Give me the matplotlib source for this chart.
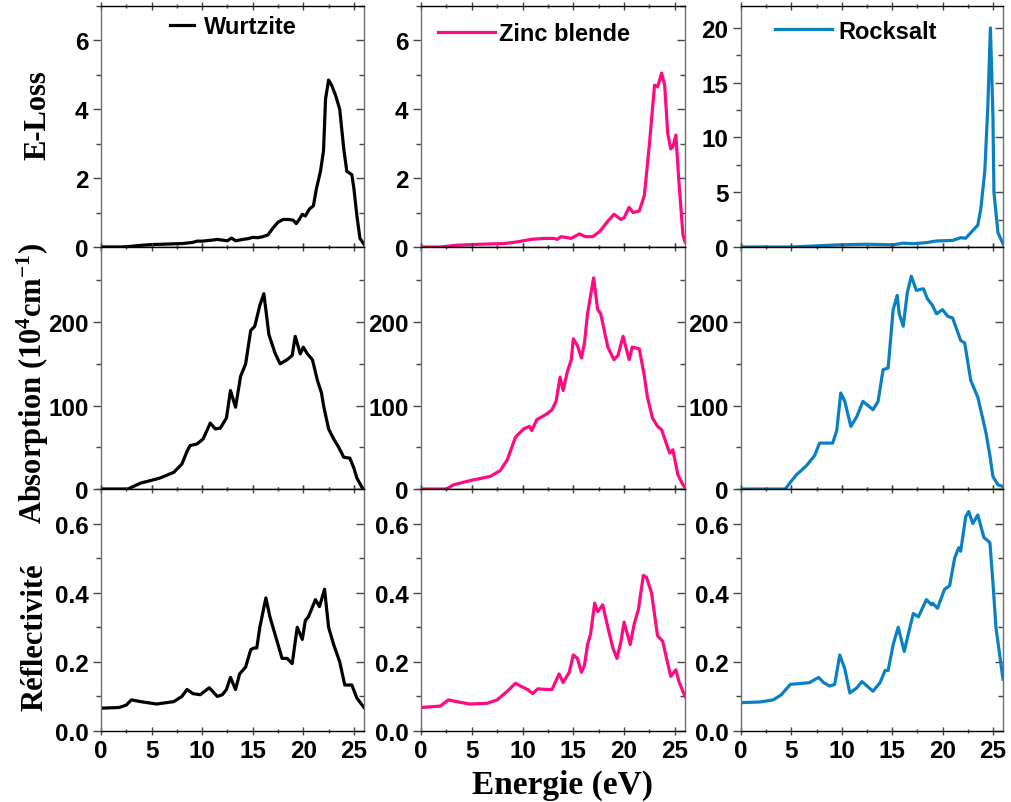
import matplotlib
matplotlib.use("Agg")
import matplotlib.pyplot as plt
from matplotlib.ticker import MultipleLocator

plt.rcParams['font.family'] = ['Liberation Sans', 'DejaVu Sans']
plt.rcParams['font.weight'] = 'bold'
plt.rcParams['mathtext.fontset'] = 'custom'
plt.rcParams['mathtext.rm'] = 'Liberation Serif:bold'
plt.rcParams['mathtext.it'] = 'Liberation Serif:bold'
plt.rcParams['mathtext.bf'] = 'Liberation Serif:bold'
plt.rcParams['mathtext.default'] = 'rm'

# ---------------- data ----------------
phases = ["Wurtzite", "Zinc blende", "Rocksalt"]
colors = ["#000000", "#FF0A80", "#0A80C4"]
row_labels = ["E-Loss", r"Absorption (10$^{4}$cm$^{-1}$)", "Réflectivité"]
xlabel = "Energie (eV)"
xticks = [0, 5, 10, 15, 20, 25]

# E-Loss
wz_eloss_E = [0, 2, 3, 4, 5, 6, 7, 8, 9, 9.5, 10, 11, 11.5, 12, 12.5, 12.9, 13.3, 14, 14.5, 15, 15.5, 16,
              16.5, 17, 17.5, 18, 18.5, 19, 19.3, 19.6, 19.9, 20.2, 20.6, 21, 21.3, 21.7, 22, 22.2, 22.5,
              22.8, 23.2, 23.6, 24.0, 24.3, 24.8, 25.0, 25.3, 25.6, 26]
wz_eloss = [0, 0, 0.02, 0.05, 0.07, 0.08, 0.09, 0.1, 0.13, 0.17, 0.17, 0.2, 0.22, 0.2, 0.18, 0.26, 0.18, 0.22,
            0.24, 0.28, 0.27, 0.3, 0.35, 0.55, 0.72, 0.8, 0.8, 0.78, 0.68, 0.8, 0.95, 0.9, 1.1, 1.2, 1.7, 2.2,
            2.8, 4.3, 4.85, 4.7, 4.4, 4.0, 2.85, 2.2, 2.1, 1.7, 0.9, 0.25, 0.08]

zb_eloss_E = [0, 1.9, 3.5, 5.8, 8.2, 9.5, 10.8, 12.1, 13.1, 13.4, 13.8, 14.8, 15.6, 16.2, 16.9, 17.6, 18.4,
              19.0, 19.7, 20.0, 20.5, 20.9, 21.5, 22.0, 22.5, 23.0, 23.3, 23.7, 24.0, 24.3, 24.6, 24.8, 25.1,
              25.4, 25.8, 26]
zb_eloss = [0, 0, 0.05, 0.08, 0.1, 0.15, 0.22, 0.25, 0.25, 0.22, 0.3, 0.25, 0.38, 0.3, 0.3, 0.45, 0.75, 0.95,
            0.8, 0.85, 1.15, 1.0, 1.05, 1.5, 3.0, 4.7, 4.65, 5.05, 4.7, 3.3, 2.85, 2.9, 3.25, 1.9, 0.35, 0.15]

rs_eloss_E = [0, 5, 9.8, 12.4, 15.1, 16.1, 17.1, 18.4, 19.4, 21.0, 21.8, 22.3, 22.8, 23.5, 23.8, 24.2, 24.5,
              24.75, 25.0, 25.1, 25.5, 26.0]
rs_eloss = [0, 0, 0.2, 0.25, 0.2, 0.35, 0.3, 0.4, 0.55, 0.6, 0.85, 0.8, 1.3, 2.0, 3.5, 7.0, 13.0, 20.0, 12.0,
            5.0, 1.3, 0.3]

# Absorption
wz_abs_E = [0, 2.7, 3.0, 3.9, 5.8, 7.2, 8.0, 8.5, 8.8, 9.5, 10.1, 10.8, 11.3, 11.8, 12.4, 12.8, 13.3, 13.8,
            14.3, 14.8, 15.2, 15.7, 16.1, 16.6, 17.2, 17.7, 18.4, 18.9, 19.2, 19.7, 20.0, 20.4, 20.9, 21.4,
            21.8, 22.0, 22.5, 23.0, 23.5, 24.0, 24.6, 25.0, 25.3, 25.8, 26]
wz_abs = [0, 0, 2, 7, 13, 20, 30, 45, 52, 54, 60, 79, 72, 73, 85, 118, 98, 135, 150, 190, 195, 220, 234, 185,
          163, 150, 155, 160, 183, 162, 170, 162, 155, 130, 115, 100, 72, 60, 50, 38, 37, 25, 13, 2, 0.5]

zb_abs_E = [0, 2.5, 3.2, 4.8, 6.8, 7.8, 8.5, 9.3, 10.1, 10.7, 10.9, 11.4, 12.4, 12.9, 13.3, 13.7, 14.0, 14.4,
            14.8, 15.0, 15.4, 15.8, 16.1, 16.4, 17.0, 17.4, 17.7, 18.4, 19.0, 19.4, 19.9, 20.5, 20.8, 21.5,
            22.0, 22.3, 22.8, 23.3, 23.7, 24.2, 24.5, 24.8, 25.3, 25.8, 26]
zb_abs = [0, 0, 5, 10, 15, 22, 35, 62, 72, 75, 70, 83, 90, 95, 105, 134, 118, 140, 155, 180, 172, 157, 175,
          210, 253, 215, 210, 170, 155, 160, 183, 155, 170, 168, 135, 110, 85, 75, 71, 53, 43, 47, 17, 5, 2]

rs_abs_E = [0, 4.4, 4.9, 5.5, 6.5, 7.3, 7.8, 8.5, 9.1, 9.5, 9.9, 10.3, 10.9, 11.5, 12.1, 12.6, 13.1, 13.6,
            14.1, 14.6, 15.1, 15.5, 15.7, 16.1, 16.5, 16.9, 17.4, 18.1, 18.5, 19.0, 19.4, 20.0, 20.5, 21.0,
            21.8, 22.2, 22.8, 23.5, 24.3, 24.7, 25.0, 25.5, 26.0]
rs_abs = [0, 0, 8, 17, 28, 40, 55, 55, 55, 70, 115, 105, 75, 87, 105, 100, 95, 105, 143, 145, 215, 232, 210,
          195, 235, 255, 238, 240, 228, 220, 210, 215, 207, 205, 178, 175, 130, 110, 68, 40, 15, 5, 3]

# Reflectivity
wz_ref_E = [0, 1.8, 2.5, 3.0, 3.9, 5.5, 7.2, 8.0, 8.5, 9.1, 9.8, 10.7, 11.5, 12.0, 12.4, 12.8, 13.3, 13.7,
            14.3, 14.8, 15.1, 15.4, 15.7, 16.3, 16.7, 17.2, 17.9, 18.4, 18.9, 19.4, 19.9, 20.2, 20.5, 21.2,
            21.6, 22.1, 22.5, 23.0, 23.6, 24.1, 24.8, 25.3, 26]
wz_ref = [0.066, 0.068, 0.075, 0.09, 0.085, 0.078, 0.085, 0.1, 0.12, 0.108, 0.105, 0.125, 0.1, 0.105, 0.12,
          0.155, 0.12, 0.165, 0.185, 0.235, 0.24, 0.24, 0.3, 0.385, 0.33, 0.28, 0.21, 0.21, 0.195, 0.3, 0.265,
          0.32, 0.33, 0.38, 0.36, 0.41, 0.3, 0.25, 0.2, 0.133, 0.133, 0.095, 0.068]

zb_ref_E = [0, 1.9, 2.7, 3.5, 4.8, 6.5, 7.5, 8.5, 9.3, 9.8, 10.5, 11.0, 11.5, 12.4, 12.9, 13.6, 14.0, 14.6,
            15.0, 15.4, 15.8, 16.1, 16.4, 16.7, 17.1, 17.4, 17.9, 18.4, 18.9, 19.3, 19.7, 20.0, 20.6, 21.0,
            21.4, 21.9, 22.2, 22.7, 23.3, 23.8, 24.3, 24.6, 25.1, 25.4, 26]
zb_ref = [0.068, 0.072, 0.09, 0.085, 0.078, 0.08, 0.09, 0.115, 0.138, 0.13, 0.12, 0.108, 0.122, 0.12, 0.12,
          0.165, 0.14, 0.17, 0.22, 0.21, 0.17, 0.19, 0.25, 0.28, 0.37, 0.345, 0.365, 0.3, 0.24, 0.21, 0.26,
          0.315, 0.25, 0.31, 0.35, 0.45, 0.445, 0.4, 0.275, 0.26, 0.195, 0.158, 0.177, 0.143, 0.1]

rs_ref_E = [0, 1.9, 3.2, 4.0, 4.9, 5.8, 6.8, 7.7, 8.2, 8.8, 9.3, 9.8, 10.3, 10.8, 11.5, 12.0, 13.1, 13.8,
            14.3, 14.6, 15.1, 15.6, 16.2, 16.6, 17.1, 17.6, 18.4, 18.9, 19.0, 19.5, 20.2, 20.7, 21.2, 21.6,
            21.8, 22.3, 22.6, 23.0, 23.5, 24.1, 24.7, 25.0, 25.3, 26.0]
rs_ref = [0.082, 0.084, 0.09, 0.105, 0.135, 0.137, 0.14, 0.155, 0.14, 0.13, 0.135, 0.22, 0.18, 0.11, 0.125,
          0.143, 0.115, 0.14, 0.175, 0.175, 0.25, 0.3, 0.23, 0.28, 0.34, 0.33, 0.38, 0.365, 0.37, 0.355, 0.41,
          0.42, 0.5, 0.53, 0.52, 0.62, 0.635, 0.60, 0.625, 0.56, 0.545, 0.43, 0.3, 0.15]

series = [
    [(wz_eloss_E, wz_eloss), (zb_eloss_E, zb_eloss), (rs_eloss_E, rs_eloss)],
    [(wz_abs_E, wz_abs), (zb_abs_E, zb_abs), (rs_abs_E, rs_abs)],
    [(wz_ref_E, wz_ref), (zb_ref_E, zb_ref), (rs_ref_E, rs_ref)],
]

# ---------------- layout ----------------
W, H = 1011, 803
fig = plt.figure(figsize=(W / 100, H / 100), dpi=100)
col_left = [101, 421, 741]
col_w = [263, 264, 262]
row_top = [7, 248, 490]
row_h = [241, 242, 242]

ylims = [[(0, 7), (0, 7), (0, 22)], [(0, 290)] * 3, [(0, 0.70)] * 3]
ymaj = [[2, 2, 5], [100] * 3, [0.2] * 3]
ymin = [[1, 1, 2.5], [50] * 3, [0.1] * 3]

leg_anchor = [(0.262, 0.913), (0.064, 0.884), (0.13, 0.896)]
leg_hlen = [1.0, 2.4, 2.4]
leg_pad = [0.45, 0.18, 0.3]

for r in range(3):
    for c in range(3):
        l = col_left[c] / W
        b = 1 - (row_top[r] + row_h[r]) / H
        ax = fig.add_axes([l, b, col_w[c] / W, row_h[r] / H])
        E, v = series[r][c]
        ax.plot(E, v, color=colors[c], lw=2.3, label=phases[c], solid_joinstyle='round', clip_on=True)
        ax.set_xlim(0, 26)
        ax.set_ylim(*ylims[r][c])
        ax.xaxis.set_major_locator(MultipleLocator(5))
        ax.xaxis.set_minor_locator(MultipleLocator(2.5))
        ax.yaxis.set_major_locator(MultipleLocator(ymaj[r][c]))
        ax.yaxis.set_minor_locator(MultipleLocator(ymin[r][c]))
        if r < 2:
            ax.set_xticklabels([])
        else:
            ax.set_xticks(xticks)
            ax.set_xticklabels([str(t) for t in xticks])
        ax.tick_params(axis='both', which='major', labelsize=17.5, width=1.0, length=6,
                       colors='#444444', labelcolor='black', pad=3)
        ax.tick_params(axis='both', which='minor', width=1.0, length=3.5, colors='#444444')
        ax.tick_params(axis='y', which='both', direction='out', right=True)
        ax.tick_params(axis='x', which='both', direction='inout', top=True)
        for lab in ax.get_xticklabels() + ax.get_yticklabels():
            lab.set_fontweight('bold')
        # right ticks inward
        for t in ax.yaxis.get_major_ticks() + ax.yaxis.get_minor_ticks():
            t.tick2line.set_marker(0)
        for sp in ['left', 'right']:
            ax.spines[sp].set_color('#6e6e6e')
            ax.spines[sp].set_linewidth(1.0)
        for sp in ['top', 'bottom']:
            ax.spines[sp].set_color('black')
            ax.spines[sp].set_linewidth(1.0)
        if r == 0:
            ax.legend(loc='center left', bbox_to_anchor=leg_anchor[c], frameon=False,
                      borderpad=0, borderaxespad=0, handlelength=leg_hlen[c],
                      handletextpad=leg_pad[c], prop={'size': 17, 'weight': 'bold'})

# y labels
label_pos = [(38, 115), (33, 383), (35, 637)]
for (x, y), txt in zip(label_pos, row_labels):
    fig.text(x / W, 1 - y / H, txt, rotation=90, ha='center', va='center',
             family='Liberation Serif', fontweight='bold', fontsize=22)

fig.text(562 / W, 1 - 785 / H, xlabel, ha='center', va='center',
         family='Liberation Serif', fontweight='bold', fontsize=24)

fig.savefig("out.png", dpi=100)
